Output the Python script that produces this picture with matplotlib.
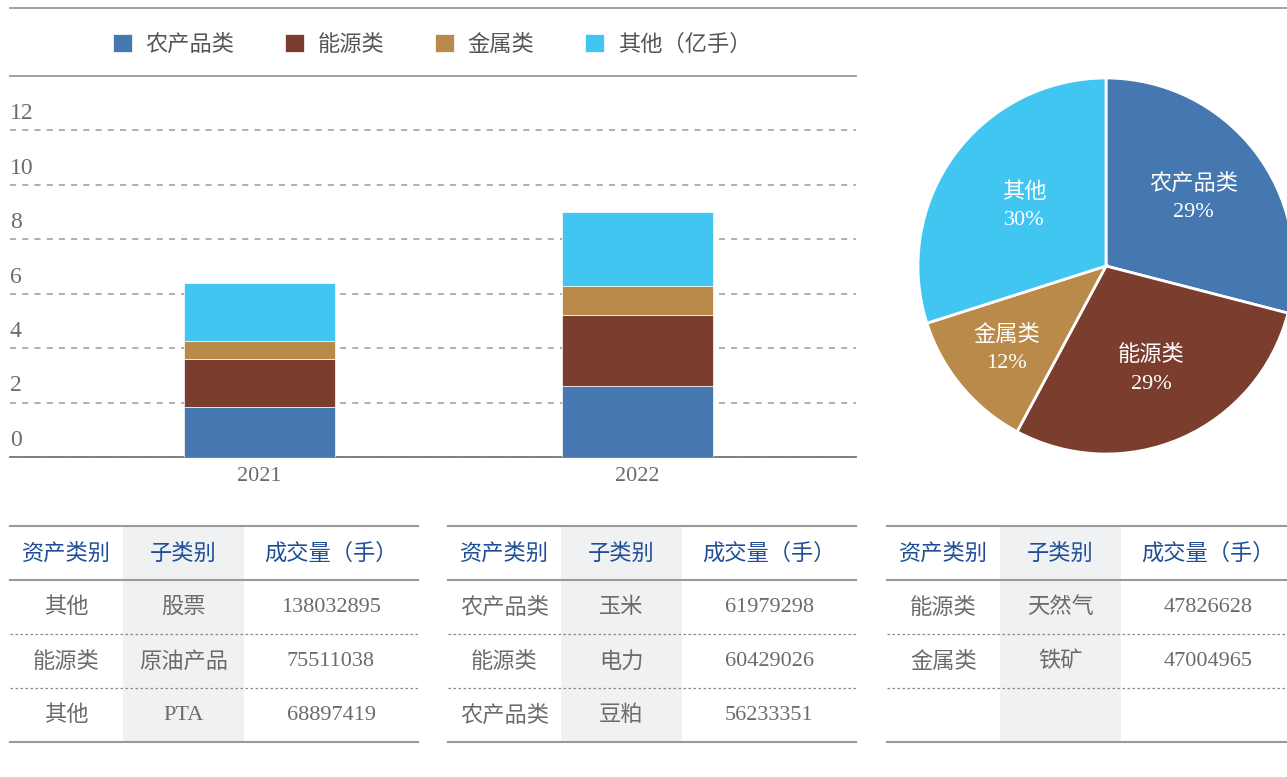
import numpy as np
import matplotlib
matplotlib.use('Agg')
import matplotlib.pyplot as plt
from matplotlib.patches import Rectangle
from matplotlib.transforms import blended_transform_factory

plt.rcParams['font.family'] = ['Liberation Serif', 'Noto Sans CJK SC']

# ---- data ---------------------------------------------------------------
years = ['2021', '2022']
categories = ['农产品类', '能源类', '金属类', '其他']
legend_labels = ['农产品类', '能源类', '金属类', '其他（亿手）']
agri = [1.84, 2.61]
energy = [1.75, 2.59]
metal = [0.67, 1.10]
other = [2.14, 2.69]
y_ticks = [0, 2, 4, 6, 8, 10, 12]

table_header = ['资产类别', '子类别', '成交量（手）']
t1_asset = ['其他', '能源类', '其他']
t1_sub = ['股票', '原油产品', 'PTA']
t1_vol = ['138032895', '75511038', '68897419']
t2_asset = ['农产品类', '能源类', '农产品类']
t2_sub = ['玉米', '电力', '豆粕']
t2_vol = ['61979298', '60429026', '56233351']
t3_asset = ['能源类', '金属类', '']
t3_sub = ['天然气', '铁矿', '']
t3_vol = ['47826628', '47004965', '']

colors = ['#4577B1', '#7B3E2E', '#B98A4A', '#41C6F2']
grey_txt = '#6b6b6b'
line_col = '#9a9a9a'
head_col = '#1F4E96'

W, H = 1287, 777
fig = plt.figure(figsize=(W / 100, H / 100), dpi=100)


def box(x0, y0, x1, y1):
    # pixel box (top-left origin) -> figure fraction rect
    return [x0 / W, 1 - y1 / H, (x1 - x0) / W, (y1 - y0) / H]


# overlay in pixel coords for rules and tables
ov = fig.add_axes([0, 0, 1, 1], zorder=0)
ov.set_xlim(0, W)
ov.set_ylim(H, 0)
ov.axis('off')
ov.plot([10, W], [8, 8], color=line_col, lw=1.3)

# ---- stacked bars -------------------------------------------------------
ax = fig.add_axes(box(10, 76, 856, 457), zorder=2)
ax.patch.set_alpha(0)
x = np.arange(len(years))
bottom = np.zeros(len(years))
series = [agri, energy, metal, other]
for vals, c, lab in zip(series, colors, legend_labels):
    ax.bar(x, vals, 0.4, bottom=bottom, color=c, label=lab, zorder=3,
           edgecolor='white', linewidth=0.5)
    bottom += np.array(vals)

ax.set_xlim(-0.659, 1.579)
ax.set_ylim(0, 14)
ax.set_yticks(y_ticks)
ax.tick_params(axis='y', length=0, labelleft=False)
ax.grid(axis='y', color=line_col, linestyle=(0, (4, 4)), lw=1.1, zorder=0)
ax.set_xticks(x, years)
ax.tick_params(axis='x', length=0, pad=7, labelsize=16, labelcolor=grey_txt)
for s in ['left', 'right']:
    ax.spines[s].set_visible(False)
ax.spines['top'].set_color(line_col)
ax.spines['top'].set_linewidth(1.3)
ax.spines['bottom'].set_color('#777777')
ax.spines['bottom'].set_linewidth(1.3)

trans = blended_transform_factory(ax.transAxes, ax.transData)
for v in y_ticks:
    ax.annotate(str(v), xy=(0, v), xycoords=trans, xytext=(0, 12),
                textcoords='offset points', ha='left', va='center',
                fontsize=17, color=grey_txt)

handles, labels = ax.get_legend_handles_labels()
leg = fig.legend(handles, labels, loc='center', bbox_to_anchor=(432 / W, 1 - 45 / H),
                 ncol=4, frameon=False, fontsize=16, handlelength=0.85,
                 handleheight=0.85, handletextpad=0.6, columnspacing=2.3)
for t in leg.get_texts():
    t.set_color('#555555')

# ---- pie (2022 share) ---------------------------------------------------
pie_vals = [s[1] for s in series]
tot = sum(pie_vals)
pie_labels = [f'{n}\n{round(v / tot * 100):d}%' for n, v in zip(categories, pie_vals)]
label_dist = [0.59, 0.6, 0.69, 0.54]
cx, cy, r = 1106, 266, 188
axp = fig.add_axes(box(cx - r, cy - r, cx + r, cy + r), zorder=2)
wedges, texts = axp.pie(pie_vals, labels=pie_labels, startangle=90,
                        counterclock=False, colors=colors,
                        wedgeprops=dict(edgecolor='white', linewidth=2),
                        textprops=dict(color='white', fontsize=16, ha='center',
                                       va='center', linespacing=1.6))
for w, t, d in zip(wedges, texts, label_dist):
    ang = np.deg2rad((w.theta1 + w.theta2) / 2)
    t.set_position((d * np.cos(ang), d * np.sin(ang)))
axp.set_xlim(-1, 1)
axp.set_ylim(-1, 1)

# ---- tables -------------------------------------------------------------
table_x = [10, 448, 887]
col_w = [113, 121, 174]
tables = [(t1_asset, t1_sub, t1_vol), (t2_asset, t2_sub, t2_vol), (t3_asset, t3_sub, t3_vol)]
top, head_bot, row_h = 526, 580, 54
for x0, cols in zip(table_x, tables):
    edges = x0 + np.concatenate([[0], np.cumsum(col_w)])
    x1 = min(edges[-1], W)
    bot = head_bot + row_h * len(cols[0])
    ov.add_patch(Rectangle((edges[1], top), col_w[1], bot - top,
                           color='#F0F1F3', lw=0, zorder=0))
    ov.plot([x0, x1], [top, top], color=line_col, lw=1.5, zorder=1)
    ov.plot([x0, x1], [head_bot, head_bot], color=line_col, lw=1.5, zorder=1)
    ov.plot([x0, x1], [bot, bot], color=line_col, lw=1.5, zorder=1)
    for k in range(1, len(cols[0])):
        yy = head_bot + row_h * k
        ov.plot([x0, x1], [yy, yy], color='#888888', lw=0.9,
                linestyle=(0, (2, 2)), zorder=1)
    centers = (edges[:-1] + edges[1:]) / 2
    for c, h in zip(centers, table_header):
        ov.text(c, (top + head_bot) / 2 + 1, h, ha='center', va='center',
                fontsize=16, color=head_col)
    for j, col in enumerate(cols):
        for i, val in enumerate(col):
            ov.text(centers[j], head_bot + row_h * (i + 0.5) + 1, val, ha='center',
                    va='center', fontsize=16, color=grey_txt)

fig.savefig('out.png', dpi=100)
